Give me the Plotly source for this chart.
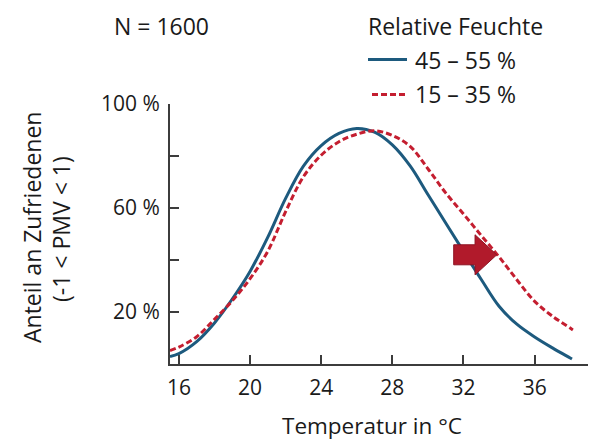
import plotly.graph_objects as go

# ---------------- data ----------------
temp_45_55 = [15.5, 16, 17, 18, 19, 20, 21, 22, 23, 24, 25, 26, 27, 28, 29, 30, 31, 32, 33, 34, 35, 36, 37, 38, 38.1]
sat_45_55 = [2.9, 4.0, 8.6, 15.8, 25.0, 35.6, 48.8, 63.7, 76.1, 84.0, 88.7, 90.6, 89.2, 84.3, 76.2, 65.2, 54.2, 43.3, 32.5, 22.2, 15.3, 10.4, 6.2, 2.3, 1.9]

temp_15_35 = [15.5, 16, 17, 18, 19, 20, 21, 22, 23, 24, 25, 26, 27, 28, 29, 30, 31, 32, 33, 34, 35, 36, 37, 38, 38.15]
sat_15_35 = [5.2, 6.5, 10.5, 17.2, 24.3, 32.8, 43.4, 58.6, 72.0, 80.3, 85.5, 88.4, 89.7, 87.9, 83.7, 75.1, 65.8, 57.7, 49.4, 41.2, 32.4, 24.1, 18.4, 13.8, 13.1]

series_names = ["45 – 55 %", "15 – 35 %"]
legend_title = "Relative Feuchte"
sample_note = "N = 1600"
x_ticks = [16, 20, 24, 28, 32, 36]
y_ticks = [20, 40, 60, 80, 100]
y_tick_text = ["20 %", "", "60 %", "", "100 %"]
x_title = "Temperatur in °C"
y_title = ["Anteil an Zufriedenen", "(-1 < PMV < 1)"]

# ---------------- style ----------------
W, H = 589, 441
L, R, T, B = 170, 1, 104, 77
PW, PH = W - L - R, H - T - B
BLUE = "#1d5a7e"
RED = "#c41e30"
AX = "#3c3c3c"
TXT = "#1a1a1a"
FONT = "Open Sans"


def px(xp):
    return (xp - L) / PW


def py(yp):
    return (H - B - yp) / PH


fig = go.Figure()
fig.add_trace(go.Scatter(x=temp_45_55, y=sat_45_55, mode="lines", name=series_names[0],
                         line=dict(color=BLUE, width=3, shape="spline", smoothing=1.0),
                         showlegend=False))
fig.add_trace(go.Scatter(x=temp_15_35, y=sat_15_35, mode="lines", name=series_names[1],
                         line=dict(color=RED, width=3, dash="6px,3px", shape="spline", smoothing=1.0),
                         showlegend=False))

# arrow marking the shift (data coords)
ax0, ax1, ax2 = 31.45, 32.65, 33.87
ay_mid, ay_body, ay_head = 42.0, 3.85, 7.7
arrow_path = (f"M {ax0},{ay_mid+ay_body} L {ax1},{ay_mid+ay_body} L {ax1},{ay_mid+ay_head} "
              f"L {ax2},{ay_mid} L {ax1},{ay_mid-ay_head} L {ax1},{ay_mid-ay_body} "
              f"L {ax0},{ay_mid-ay_body} Z")
fig.add_shape(type="path", path=arrow_path, xref="x", yref="y",
              fillcolor="#b11a2b", line=dict(color="#8e1222", width=1), layer="above")

# manual legend
fig.add_shape(type="line", xref="paper", yref="paper", x0=px(368), x1=px(407), y0=py(59.5), y1=py(59.5),
              line=dict(color=BLUE, width=3))
fig.add_shape(type="line", xref="paper", yref="paper", x0=px(372), x1=px(407), y0=py(94.5), y1=py(94.5),
              line=dict(color=RED, width=3, dash="6px,3px"))

ann = []
ann.append(dict(text=legend_title, x=px(366), y=py(26), xanchor="left", yanchor="middle", font_size=23))
ann.append(dict(text=series_names[0], x=px(413), y=py(60.5), xanchor="left", yanchor="middle", font_size=23))
ann.append(dict(text=series_names[1], x=px(413), y=py(94.5), xanchor="left", yanchor="middle", font_size=23))
ann.append(dict(text=sample_note, x=px(161), y=py(26), xanchor="center", yanchor="middle", font_size=23))
ann.append(dict(text=x_title, x=px(371.5), y=py(425), xanchor="center", yanchor="middle", font_size=22.5))
ann.append(dict(text=y_title[0], x=px(32), y=py(228), xanchor="center", yanchor="middle", font_size=23,
                textangle=-90))
ann.append(dict(text=y_title[1], x=px(61), y=py(229), xanchor="center", yanchor="middle", font_size=23,
                textangle=-90))
for a in ann:
    a.update(xref="paper", yref="paper", showarrow=False, font=dict(family=FONT, color=TXT, size=a.pop("font_size")))
fig.update_layout(annotations=ann)

fig.update_layout(
    width=W, height=H,
    margin=dict(l=L, r=R, t=T, b=B, pad=0),
    paper_bgcolor="white", plot_bgcolor="white",
    font=dict(family=FONT, color=TXT),
    xaxis=dict(range=[15.5, 39.0], tickvals=x_ticks, ticks="inside", ticklen=9, tickwidth=1.5,
               tickcolor=AX, showline=True, linecolor=AX, linewidth=2, showgrid=False, zeroline=False,
               tickfont=dict(family=FONT, size=21, color=TXT), ticklabelstandoff=4),
    yaxis=dict(range=[0, 100], tickvals=y_ticks, ticktext=y_tick_text, ticks="inside", ticklen=9,
               tickwidth=1.5, tickcolor=AX, showline=True, linecolor=AX, linewidth=2, showgrid=False,
               zeroline=False, tickfont=dict(family=FONT, size=21, color=TXT), ticklabelstandoff=4),
)

fig.write_html("out.html", config={"displayModeBar": False},
               post_script="document.body.style.margin='0';document.body.style.overflow='hidden';")
